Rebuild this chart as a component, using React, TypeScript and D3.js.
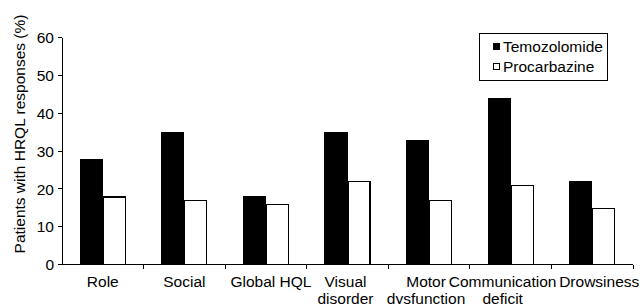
import React from "react";
import * as d3 from "d3";

const categories: string[][] = [
  ["Role"],
  ["Social"],
  ["Global HQL"],
  ["Visual", "disorder"],
  ["Motor", "dysfunction"],
  ["Communication", "deficit"],
  ["Drowsiness"],
];
const temozolomide = [28, 35, 18, 35, 33, 44, 22];
const procarbazine = [18, 17, 16, 22, 17, 21, 15];
const seriesNames = ["Temozolomide", "Procarbazine"];
const yTicks = [0, 10, 20, 30, 40, 50, 60];

// layout-only label nudges (avoid overlapping labels, as in the reference)
const labelNudge = [0, 0, 5, -2, -3, -8, 7];

const W = 644;
const H = 304;
const left = 62;
const right = 633;
const yTop = 37.8;
const yBottom = 264.5;
const FONT = "'Liberation Sans', Arial, Helvetica, sans-serif";
const FS = 15.5;

export default function App() {
  const x = d3
    .scaleBand<number>()
    .domain(d3.range(categories.length))
    .range([left, right])
    .paddingInner(0)
    .paddingOuter(0);
  const y = d3.scaleLinear().domain([0, 60]).range([yBottom, yTop]);
  const bw = x.bandwidth();
  const barW = bw * 0.282;

  return (
    <svg
      width={W}
      height={H}
      style={{ position: "absolute", left: 0, top: 0, background: "#fff" }}
      fontFamily={FONT}
    >
      <rect x={0} y={0} width={W} height={H} fill="#fff" />
      {/* bars */}
      {categories.map((_, i) => {
        const c = (x(i) as number) + bw / 2;
        return (
          <g key={i} shapeRendering="crispEdges">
            <rect
              x={c - barW}
              y={y(temozolomide[i])}
              width={barW}
              height={y(0) - y(temozolomide[i])}
              fill="#000"
            />
            <rect
              x={c + 0.5}
              y={y(procarbazine[i]) + 0.5}
              width={barW - 1}
              height={y(0) - y(procarbazine[i]) - 0.5}
              fill="#fff"
              stroke="#000"
              strokeWidth={1.2}
            />
          </g>
        );
      })}
      {/* axes */}
      <g shapeRendering="crispEdges">
        <line x1={left} x2={left} y1={yTop} y2={yBottom} stroke="#000" strokeWidth={1} />
        {yTicks.map((t) => (
          <line key={t} x1={left - 4} x2={left} y1={y(t)} y2={y(t)} stroke="#000" />
        ))}
        <line x1={left} x2={right} y1={yBottom} y2={yBottom} stroke="#000" />
        {d3.range(1, categories.length + 1).map((i) => {
          const xx = i < categories.length ? (x(i) as number) : right;
          return <line key={i} x1={xx} x2={xx} y1={yBottom} y2={yBottom + 4} stroke="#000" />;
        })}
      </g>
      {yTicks.map((t) => (
        <text
          key={t}
          x={54}
          y={y(t)}
          dy="0.36em"
          textAnchor="end"
          fontSize={FS}
          fill="#000"
        >
          {t}
        </text>
      ))}
      <text
        transform={`translate(24.5,134) rotate(-90)`}
        textAnchor="middle"
        fontSize={FS}
        fill="#000"
      >
        Patients with HRQL responses (%)
      </text>
      {/* x labels */}
      {categories.map((lines, i) => {
        const c = (x(i) as number) + bw / 2 + labelNudge[i];
        return (
          <text key={i} textAnchor="middle" fontSize={FS} fill="#000">
            {lines.map((ln, j) => (
              <tspan key={j} x={c} y={287 + j * 16.5}>
                {ln}
              </tspan>
            ))}
          </text>
        );
      })}
      {/* legend */}
      <g>
        <rect
          x={479.5}
          y={33.5}
          width={128}
          height={47}
          fill="#fff"
          stroke="#000"
          strokeWidth={1.3}
          shapeRendering="crispEdges"
        />
        {seriesNames.map((n, i) => (
          <g key={n}>
            <rect
              x={493.5}
              y={43 + i * 20}
              width={6}
              height={6}
              fill={i === 0 ? "#000" : "#fff"}
              stroke="#000"
              strokeWidth={1}
              shapeRendering="crispEdges"
            />
            <text x={503} y={51.5 + i * 20} fontSize={FS} fill="#000">
              {n}
            </text>
          </g>
        ))}
      </g>
    </svg>
  );
}
